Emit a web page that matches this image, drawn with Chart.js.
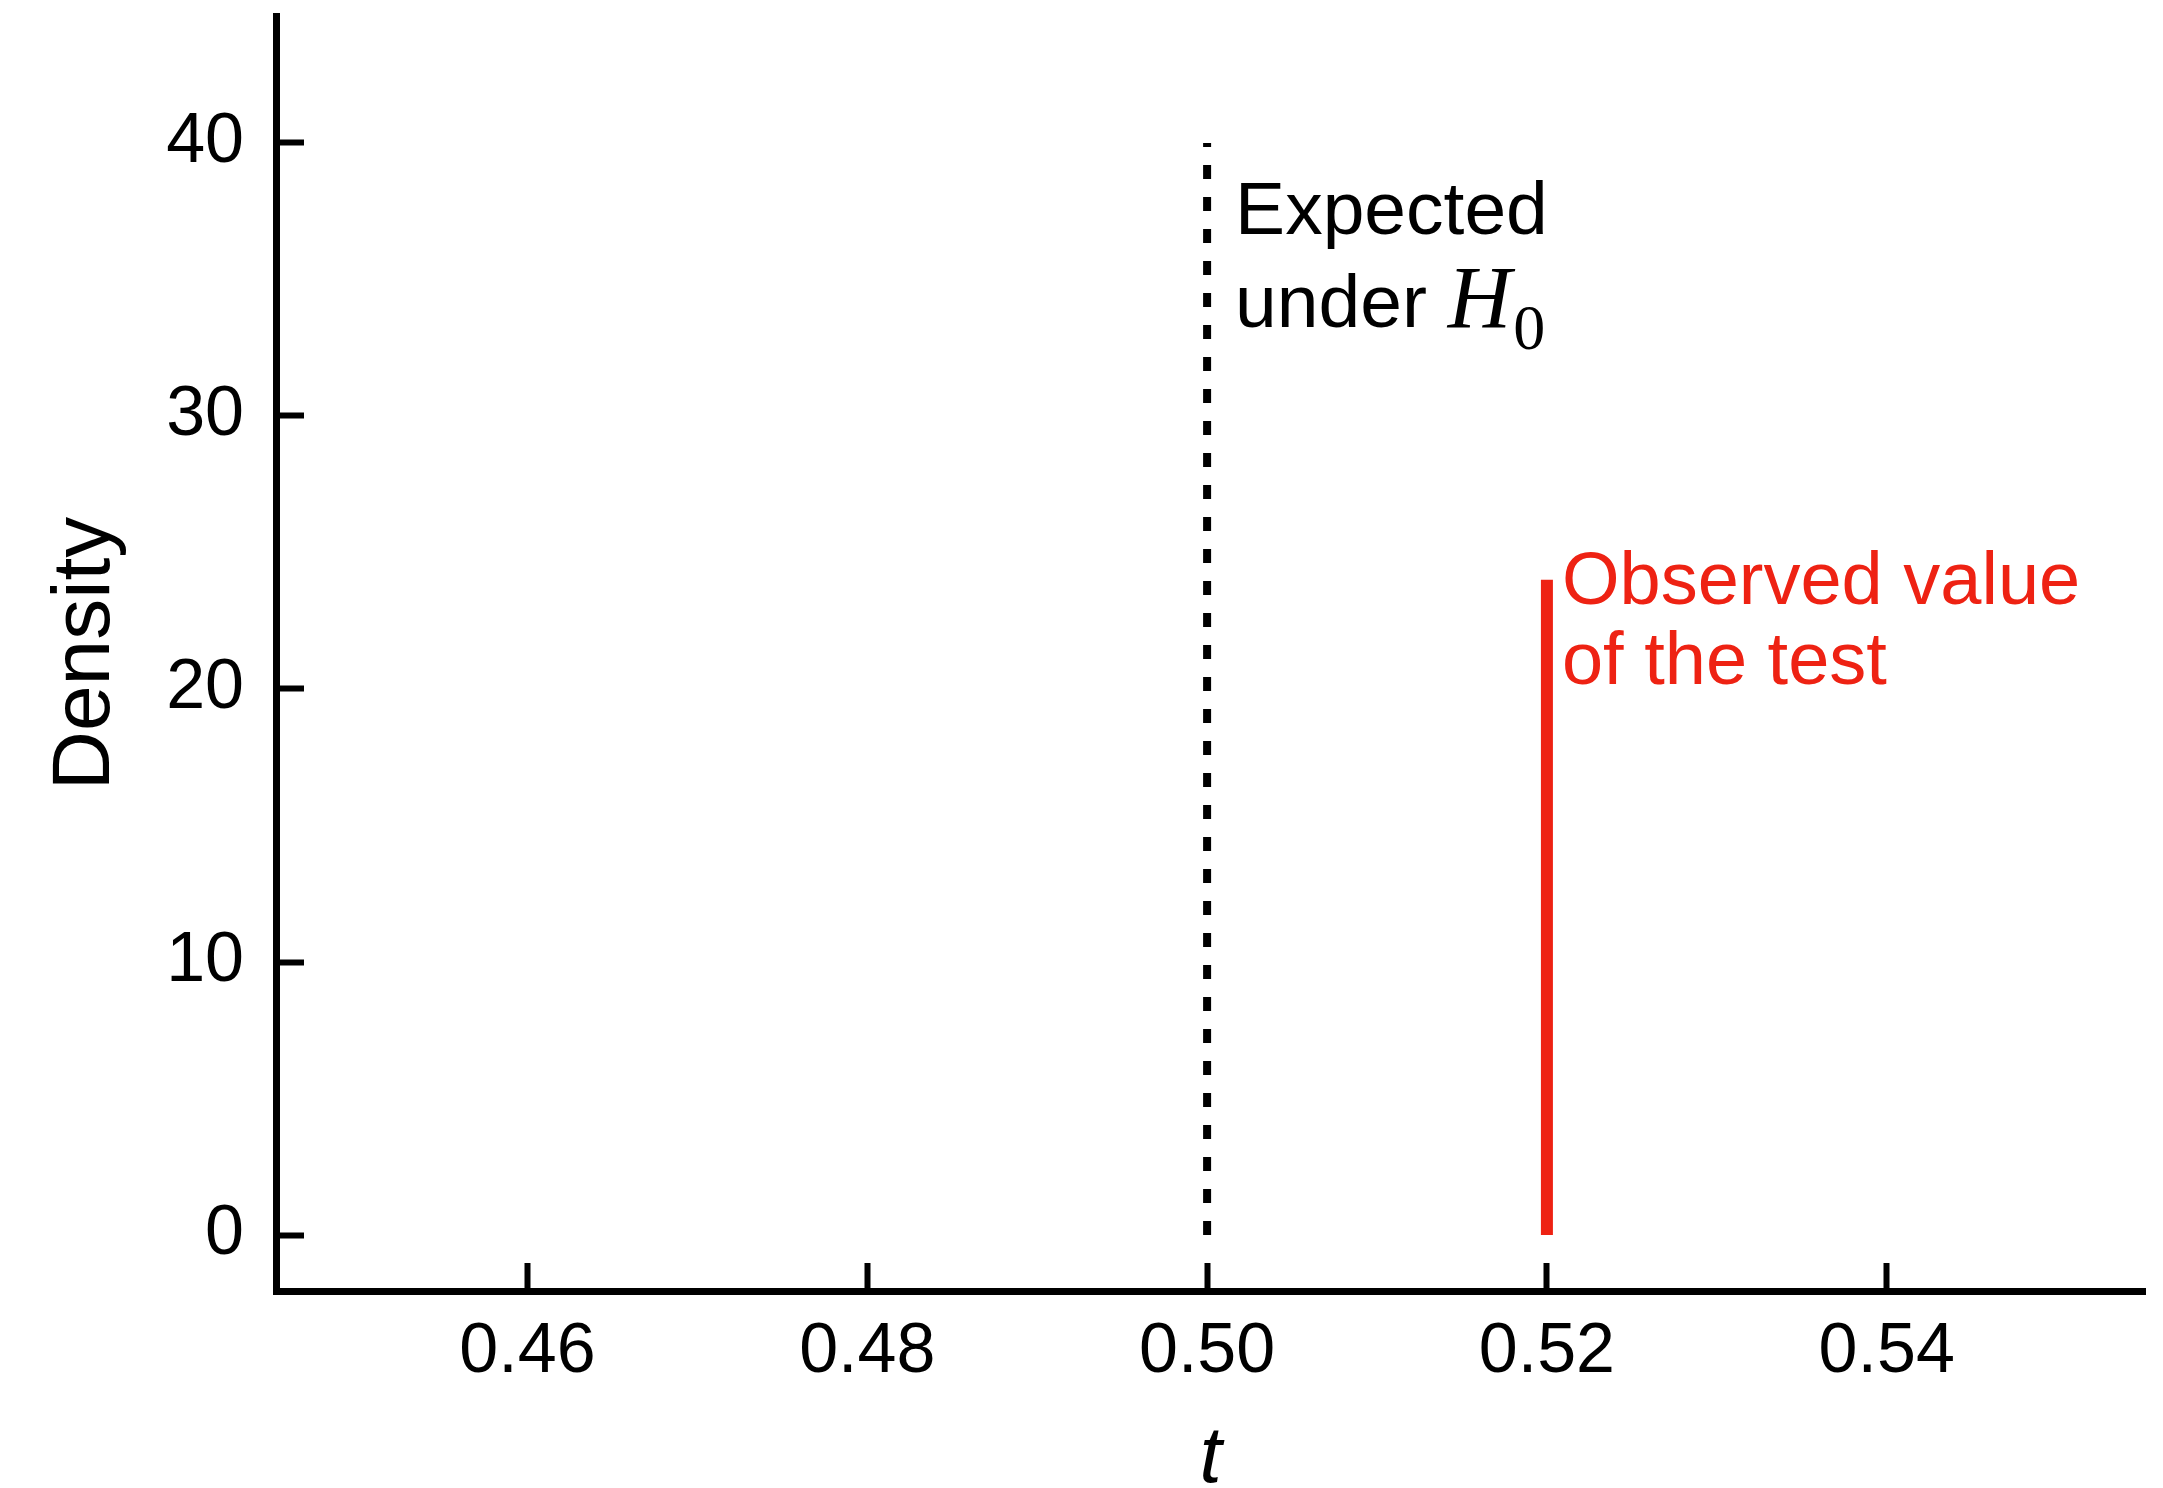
<!DOCTYPE html>
<html>
<head>
<meta charset="utf-8">
<title>Density of t</title>
<script src="https://cdn.jsdelivr.net/npm/chart.js@4.4.1/dist/chart.umd.min.js"></script>
<style>
  html, body { margin: 0; padding: 0; background: #fff; }
  #wrap { width: 2163px; height: 1488px; }
</style>
</head>
<body>
<div id="wrap"><canvas id="myChart" width="2163" height="1488"></canvas></div>
<script>
/*globals Chart*/
// valori
const expectedX = [0.50, 0.50];
const expectedY = [0, 40];
const observedX = [0.52, 0.52];
const observedY = [0, 24];
const xTicks = [0.46, 0.48, 0.50, 0.52, 0.54];
const yTicks = [0, 10, 20, 30, 40];
const xRange = [0.4452, 0.5552];
const yRange = [-2.05, 44.65];

const sans = "'Liberation Sans', Arial, Helvetica, sans-serif";
const serif = "'Liberation Serif', 'Times New Roman', serif";
const red = "#ee2213";

function punti(xs, ys) {
	return xs.map((x, i) => ({ x: x, y: ys[i] }));
}

// testi accanto alle due linee
const notePlugin = {
	id: "note",
	afterDatasetsDraw(chart) {
		const ctx = chart.ctx;
		const sx = chart.scales.x;
		const sy = chart.scales.y;
		ctx.save();
		ctx.textBaseline = "alphabetic";
		ctx.textAlign = "left";

		// Expected under H0
		let x = sx.getPixelForValue(expectedX[0]) + 28;
		let y = sy.getPixelForValue(36.65);
		ctx.fillStyle = "#000";
		ctx.font = "75px " + sans;
		ctx.fillText("Expected", x, y);
		y += 93;
		ctx.fillText("under ", x, y);
		let w = ctx.measureText("under ").width;
		ctx.font = "italic 88px " + serif;
		ctx.fillText("H", x + w, y);
		w += ctx.measureText("H").width;
		ctx.font = "64px " + serif;
		ctx.fillText("0", x + w + 2, y + 22);

		// Observed value of the test
		x = sx.getPixelForValue(observedX[0]) + 15;
		y = sy.getPixelForValue(23.13);
		ctx.fillStyle = red;
		ctx.font = "74px " + sans;
		ctx.fillText("Observed value", x, y);
		ctx.fillText("of the test", x, y + 80);
		ctx.restore();
	},
};

function generaGrafico() {
	const ctx = document.getElementById("myChart").getContext("2d");
	new Chart(ctx, {
		type: "line",
		data: {
			datasets: [
				{
					data: punti(expectedX, expectedY),
					borderColor: "#000",
					borderWidth: 8,
					borderDash: [14, 18],
					borderCapStyle: "butt",
					pointRadius: 0,
				},
				{
					data: punti(observedX, observedY),
					borderColor: red,
					borderWidth: 12,
					borderCapStyle: "butt",
					pointRadius: 0,
				},
			],
		},
		options: {
			responsive: false,
			animation: false,
			events: [],
			layout: { padding: { top: 16, right: 18, left: 0, bottom: 0 } },
			plugins: {
				legend: { display: false },
				tooltip: { enabled: false },
			},
			scales: {
				x: {
					type: "linear",
					min: xRange[0],
					max: xRange[1],
					afterBuildTicks(scale) {
						scale.ticks = xTicks.map((v) => ({ value: v }));
					},
					afterFit(scale) {
						scale.height = 197;
						scale.paddingLeft = 0;
						scale.paddingRight = 0;
					},
					border: { display: true, color: "#000", width: 7 },
					grid: {
						drawOnChartArea: false,
						drawTicks: true,
						tickLength: -28,
						tickWidth: 6,
						tickColor: "#000",
					},
					ticks: {
						color: "#000",
						font: { family: sans, size: 70 },
						padding: 48,
						maxRotation: 0,
						callback: (v) => v.toFixed(2),
					},
					title: {
						display: true,
						text: "t",
						color: "#000",
						font: { family: sans, size: 80, style: "italic", lineHeight: 0.7 },
						padding: 0,
					},
				},
				y: {
					type: "linear",
					min: yRange[0],
					max: yRange[1],
					afterBuildTicks(scale) {
						scale.ticks = yTicks.map((v) => ({ value: v }));
					},
					afterFit(scale) {
						scale.width = 276;
						scale.paddingTop = 0;
						scale.paddingBottom = 0;
					},
					border: { display: true, color: "#000", width: 7 },
					grid: {
						drawOnChartArea: false,
						drawTicks: true,
						tickLength: -28,
						tickWidth: 6,
						tickColor: "#000",
					},
					ticks: {
						color: "#000",
						font: { family: sans, size: 70 },
						padding: 60,
						callback: (v) => String(v),
					},
					title: {
						display: true,
						text: "Density",
						color: "#000",
						font: { family: sans, size: 82, lineHeight: 1.2 },
						padding: { top: 37, bottom: 0 },
					},
				},
			},
		},
		plugins: [notePlugin],
	});
}

generaGrafico();
</script>
</body>
</html>
